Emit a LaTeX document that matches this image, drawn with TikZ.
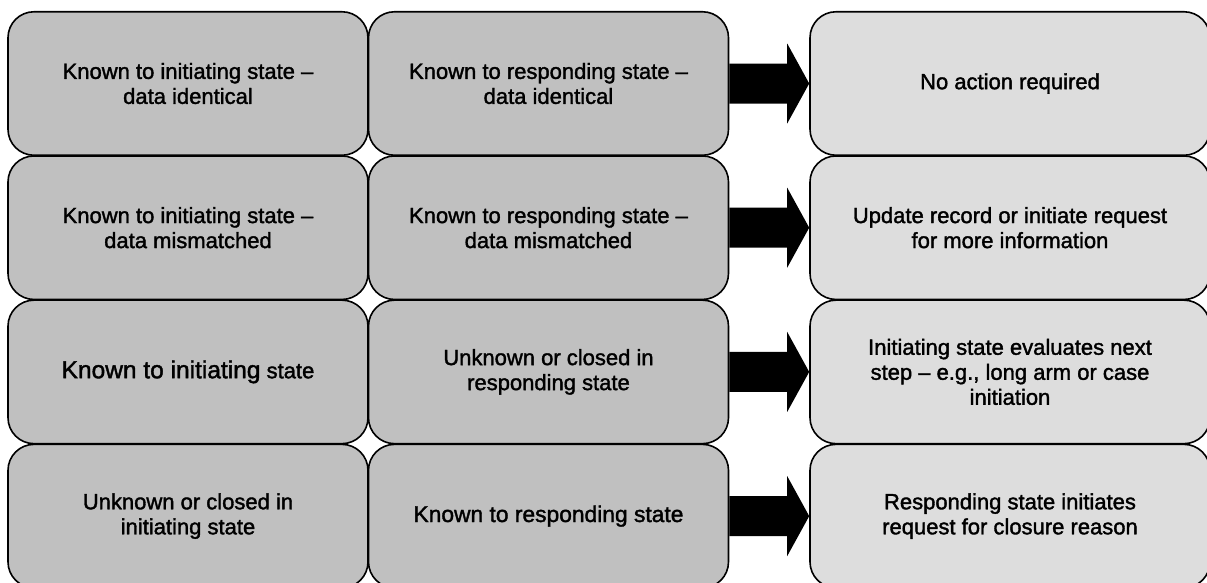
\documentclass[tikz,border=0pt]{standalone}
\usepackage{fontspec}
\setmainfont{Liberation Sans}
\newfontfamily\boxfont{Liberation Sans}[FakeBold=1.6]
\usetikzlibrary{calc}
\definecolor{stategray}{HTML}{C0C0C0}
\definecolor{actiongray}{HTML}{DDDDDD}
\tikzset{
  statebox/.style={draw, line width=1.6pt, rounded corners=26pt, fill=stategray,
    minimum width=360pt, minimum height=143.5pt, inner sep=0pt, align=center,
    font=\boxfont\fontsize{22}{25}\selectfont},
  actionbox/.style={statebox, fill=actiongray, minimum width=400pt}
}
\begin{document}
\begin{tikzpicture}[x=1pt,y=-1pt]
  \useasboundingbox (0,0) rectangle (1207,582);
  \clip (0,0) rectangle (1207,582);
  \node[statebox] (i1) at (188,83.5) {Known to initiating state –\\data identical};
  \node[statebox] (r1) at (548.5,83.5) {Known to responding state –\\data identical};
  \node[actionbox] (a1) at (1010,83.5) {No action required};
  \node[statebox] (i2) at (188,227.7) {Known to initiating state –\\data mismatched};
  \node[statebox] (r2) at (548.5,227.7) {Known to responding state –\\data mismatched};
  \node[actionbox] (a2) at (1010,227.7) {Update record or initiate request\\for more information};
  \node[statebox] (i3) at (188,371.9) {{\fontsize{24.5}{28}\selectfont Known to initiating} state};
  \node[statebox] (r3) at (548.5,371.9) {Unknown or closed in\\responding state};
  \node[actionbox] (a3) at (1010,371.9) {Initiating state evaluates next\\step – e.g., long arm or case\\initiation};
  \node[statebox] (i4) at (188,516.1) {Unknown or closed in\\initiating state};
  \node[statebox] (r4) at (548.5,516.1) {{\fontsize{22.8}{26}\selectfont Known to responding state}};
  \node[actionbox] (a4) at (1010,516.1) {Responding state initiates\\request for closure reason};
  \foreach \k in {1,...,4}
    \fill ($(r\k.east)+(0,-20)$) -- ($(a\k.west)+(-22,-20)$) -- ($(a\k.west)+(-22,-40)$)
      -- (a\k.west) -- ($(a\k.west)+(-22,40)$) -- ($(a\k.west)+(-22,20)$)
      -- ($(r\k.east)+(0,20)$) -- cycle;
\end{tikzpicture}
\end{document}
